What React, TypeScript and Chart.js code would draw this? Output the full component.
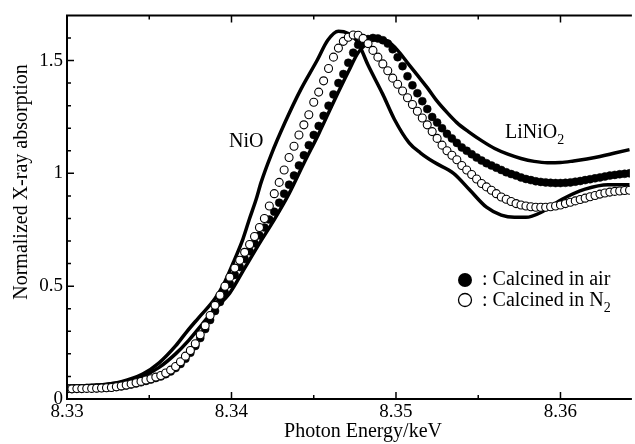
import React, { useEffect, useRef } from 'react';
import { Chart, registerables } from 'chart.js';
Chart.register(...registerables);

const FONT = '"Liberation Serif", "Times New Roman", Times, serif';

// Photon energy grid (keV) of the measured spectra
const energyGrid = [
  8.3300, 8.3303, 8.3306, 8.3309, 8.3312, 8.3315, 8.3318, 8.3321, 8.3324, 8.3327,
  8.3330, 8.3333, 8.3336, 8.3339, 8.3342, 8.3345, 8.3348, 8.3351, 8.3354, 8.3357,
  8.3360, 8.3363, 8.3366, 8.3369, 8.3372, 8.3375, 8.3378, 8.3381, 8.3384, 8.3387,
  8.3390, 8.3393, 8.3396, 8.3399, 8.3402, 8.3405, 8.3408, 8.3411, 8.3414, 8.3417,
  8.3420, 8.3423, 8.3426, 8.3429, 8.3432, 8.3435, 8.3438, 8.3441, 8.3444, 8.3447,
  8.3450, 8.3453, 8.3456, 8.3459, 8.3462, 8.3465, 8.3468, 8.3471, 8.3474, 8.3477,
  8.3480, 8.3483, 8.3486, 8.3489, 8.3492, 8.3495, 8.3498, 8.3501, 8.3504, 8.3507,
  8.3510, 8.3513, 8.3516, 8.3519, 8.3522, 8.3525, 8.3528, 8.3531, 8.3534, 8.3537,
  8.3540, 8.3543, 8.3546, 8.3549, 8.3552, 8.3555, 8.3558, 8.3561, 8.3564, 8.3567,
  8.3570, 8.3573, 8.3576, 8.3579, 8.3582, 8.3585, 8.3588, 8.3591, 8.3594, 8.3597,
  8.3600, 8.3603, 8.3606, 8.3609, 8.3612, 8.3615, 8.3618, 8.3621, 8.3624, 8.3627,
  8.3630, 8.3633, 8.3636, 8.3639, 8.3642,
];

// Calcined in air (filled circles)
const calcinedAir = [
  0.045, 0.045, 0.046, 0.046, 0.047, 0.047, 0.048, 0.049, 0.050, 0.051,
  0.053, 0.056, 0.060, 0.064, 0.069, 0.074, 0.080, 0.086, 0.093, 0.100,
  0.110, 0.122, 0.137, 0.155, 0.178, 0.205, 0.235, 0.270, 0.310, 0.350,
  0.390, 0.430, 0.470, 0.510, 0.550, 0.585, 0.620, 0.655, 0.690, 0.725,
  0.760, 0.795, 0.830, 0.870, 0.910, 0.950, 0.990, 1.035, 1.080, 1.125,
  1.170, 1.210, 1.255, 1.300, 1.350, 1.400, 1.440, 1.490, 1.535, 1.570,
  1.585, 1.595, 1.600, 1.598, 1.590, 1.575, 1.550, 1.515, 1.475, 1.430,
  1.390, 1.355, 1.320, 1.285, 1.250, 1.225, 1.200, 1.175, 1.155, 1.135,
  1.115, 1.100, 1.085, 1.070, 1.057, 1.045, 1.035, 1.025, 1.015, 1.005,
  0.997, 0.990, 0.982, 0.975, 0.970, 0.965, 0.962, 0.960, 0.958, 0.957,
  0.957, 0.958, 0.960, 0.963, 0.966, 0.970, 0.974, 0.978, 0.982, 0.986,
  0.990, 0.993, 0.996, 0.998, 1.000,
];

// Calcined in N2 (open circles)
const calcinedN2 = [
  0.045, 0.045, 0.046, 0.046, 0.047, 0.047, 0.048, 0.049, 0.050, 0.051,
  0.054, 0.058, 0.062, 0.067, 0.072, 0.078, 0.084, 0.090, 0.097, 0.104,
  0.115, 0.128, 0.144, 0.165, 0.190, 0.215, 0.245, 0.285, 0.325, 0.370,
  0.415, 0.460, 0.500, 0.540, 0.580, 0.615, 0.650, 0.685, 0.720, 0.760,
  0.800, 0.855, 0.910, 0.960, 1.015, 1.070, 1.120, 1.170, 1.215, 1.260,
  1.315, 1.360, 1.410, 1.465, 1.515, 1.555, 1.585, 1.603, 1.613, 1.612,
  1.598, 1.575, 1.545, 1.515, 1.485, 1.455, 1.422, 1.395, 1.365, 1.335,
  1.305, 1.275, 1.245, 1.215, 1.185, 1.155, 1.125, 1.100, 1.080, 1.060,
  1.035, 1.015, 0.995, 0.975, 0.955, 0.940, 0.925, 0.910, 0.895, 0.885,
  0.875, 0.866, 0.860, 0.855, 0.852, 0.850, 0.850, 0.850, 0.852, 0.855,
  0.860, 0.866, 0.872, 0.878, 0.884, 0.890, 0.896, 0.902, 0.908, 0.913,
  0.917, 0.920, 0.922, 0.924, 0.925,
];

// NiO reference (solid line)
const nioEnergy = [
  8.3300, 8.3320, 8.3332, 8.3346, 8.3356, 8.3366, 8.3373, 8.3380, 8.3390, 8.3396,
  8.3402, 8.3407, 8.3411, 8.3415, 8.3418, 8.3424, 8.34325, 8.3442, 8.3452, 8.34585,
  8.3465, 8.3471, 8.34765, 8.3483, 8.3492, 8.3499, 8.3508, 8.3515, 8.3523, 8.3535,
  8.3545, 8.3555, 8.3564, 8.3572, 8.3579, 8.3589, 8.3601, 8.3615, 8.3629, 8.3642,
];
const nioValues = [
  0.057, 0.062, 0.075, 0.110, 0.160, 0.235, 0.300, 0.360, 0.445, 0.520,
  0.620, 0.710, 0.800, 0.885, 0.960, 1.080, 1.225, 1.370, 1.500, 1.590,
  1.630, 1.620, 1.585, 1.480, 1.350, 1.240, 1.135, 1.090, 1.050, 1.000,
  0.925, 0.850, 0.815, 0.805, 0.805, 0.830, 0.885, 0.930, 0.950, 0.950,
];

// LiNiO2 reference (solid line)
const linio2Energy = [
  8.3300, 8.3320, 8.3332, 8.3346, 8.3356, 8.3366, 8.3374, 8.3382, 8.3390, 8.3399,
  8.3408, 8.3417, 8.3426, 8.3435, 8.3444, 8.3453, 8.3462, 8.3471, 8.3477, 8.3483,
  8.3489, 8.3495, 8.3501, 8.3507, 8.3513, 8.3519, 8.3525, 8.3531, 8.3537, 8.3544,
  8.3552, 8.3560, 8.3568, 8.3576, 8.3584, 8.3592, 8.3600, 8.3608, 8.3616, 8.3624,
  8.3633, 8.3642,
];
const linio2Values = [
  0.057, 0.062, 0.073, 0.100, 0.140, 0.200, 0.260, 0.330, 0.400, 0.470,
  0.580, 0.690, 0.795, 0.910, 1.045, 1.175, 1.315, 1.450, 1.535, 1.580,
  1.600, 1.585, 1.545, 1.490, 1.435, 1.380, 1.320, 1.270, 1.225, 1.185,
  1.145, 1.110, 1.085, 1.066, 1.053, 1.047, 1.048, 1.055, 1.064, 1.075,
  1.090, 1.105,
];

// Axes
const xMin = 8.33;
const xMax = 8.36422;
const yMin = 0;
const yMax = 1.7;
const xMajorTicks = [8.33, 8.34, 8.35, 8.36];
const xMinorTicks = [8.335, 8.345, 8.355];
const yMajorTicks = [0, 0.5, 1, 1.5];
const yMinorTicks = [0.1, 0.2, 0.3, 0.4, 0.6, 0.7, 0.8, 0.9, 1.1, 1.2, 1.3, 1.4, 1.6];
const xTitle = 'Photon Energy/keV';
const yTitle = 'Normalized X-ray absorption';
const legendAir = ': Calcined in air';
const legendN2 = ': Calcined in N';

const pts = (xs: number[], ys: number[]) => xs.map((x, i) => ({ x, y: ys[i] }));

export default function App() {
  const ref = useRef<HTMLCanvasElement>(null);
  useEffect(() => {
    document.body.style.margin = '0';
    const canvas = ref.current!;

    const decor = {
      id: 'decor',
      afterDraw(chart: any) {
        const { ctx, chartArea: a, scales } = chart;
        const xs = scales.x;
        const ys = scales.y;
        ctx.save();
        ctx.strokeStyle = '#000';
        ctx.fillStyle = '#000';
        // frame
        ctx.lineWidth = 2;
        ctx.beginPath();
        ctx.moveTo(a.left, a.top);
        ctx.lineTo(a.right + 2, a.top);
        ctx.moveTo(a.left, a.top - 1);
        ctx.lineTo(a.left, a.bottom + 1);
        ctx.moveTo(a.left, a.bottom);
        ctx.lineTo(a.right + 2, a.bottom);
        ctx.stroke();
        // ticks (inward)
        ctx.lineWidth = 1.5;
        ctx.beginPath();
        const xt = (v: number, len: number) => {
          const p = xs.getPixelForValue(v);
          ctx.moveTo(p, a.bottom);
          ctx.lineTo(p, a.bottom - len);
          ctx.moveTo(p, a.top);
          ctx.lineTo(p, a.top + len);
        };
        const yt = (v: number, len: number) => {
          const p = ys.getPixelForValue(v);
          ctx.moveTo(a.left, p);
          ctx.lineTo(a.left + len, p);
        };
        xMajorTicks.forEach((v) => xt(v, 7));
        xMinorTicks.forEach((v) => xt(v, 4));
        yMajorTicks.forEach((v) => yt(v, 7));
        yMinorTicks.forEach((v) => yt(v, 4));
        ctx.stroke();

        // axis titles
        ctx.font = `20px ${FONT}`;
        ctx.textAlign = 'center';
        ctx.textBaseline = 'middle';
        ctx.fillText(xTitle, 363, 432);
        ctx.save();
        ctx.translate(22, 182);
        ctx.rotate(-Math.PI / 2);
        ctx.fillText(yTitle, 0, 0);
        ctx.restore();

        // annotations
        ctx.textAlign = 'left';
        ctx.fillText('NiO', 229, 142);
        ctx.fillText('LiNiO', 505, 133);
        const w = ctx.measureText('LiNiO').width;
        ctx.font = `14px ${FONT}`;
        ctx.fillText('2', 505 + w, 140);

        // legend
        ctx.font = `20px ${FONT}`;
        ctx.beginPath();
        ctx.arc(465, 280, 7, 0, Math.PI * 2);
        ctx.fill();
        ctx.beginPath();
        ctx.lineWidth = 1.3;
        ctx.arc(465, 300, 6.5, 0, Math.PI * 2);
        ctx.fillStyle = '#fff';
        ctx.fill();
        ctx.stroke();
        ctx.fillStyle = '#000';
        ctx.fillText(legendAir, 482, 280);
        ctx.fillText(legendN2, 482, 301);
        const w2 = ctx.measureText(legendN2).width;
        ctx.font = `14px ${FONT}`;
        ctx.fillText('2', 482 + w2, 308);
        ctx.restore();
      },
    };

    const chart = new Chart(canvas, {
      type: 'line',
      data: {
        datasets: [
          {
            label: 'Calcined in N2',
            data: pts(energyGrid, calcinedN2),
            showLine: false,
            pointRadius: 4,
            pointBorderWidth: 1.1,
            pointBackgroundColor: '#fff',
            pointBorderColor: '#000',
            order: 1,
          },
          {
            label: 'Calcined in air',
            data: pts(energyGrid, calcinedAir),
            showLine: false,
            pointRadius: 4,
            pointBorderWidth: 0.5,
            pointBackgroundColor: '#000',
            pointBorderColor: '#000',
            order: 2,
          },
          {
            label: 'NiO',
            data: pts(nioEnergy, nioValues),
            borderColor: '#000',
            borderWidth: 3.5,
            pointRadius: 0,
            cubicInterpolationMode: 'monotone',
            fill: false,
            order: 3,
          },
          {
            label: 'LiNiO2',
            data: pts(linio2Energy, linio2Values),
            borderColor: '#000',
            borderWidth: 3.5,
            pointRadius: 0,
            cubicInterpolationMode: 'monotone',
            fill: false,
            order: 4,
          },
        ],
      },
      options: {
        animation: false,
        responsive: false,
        devicePixelRatio: 1,
        layout: { padding: { top: 13, right: 0, left: 0, bottom: 0 } },
        plugins: { legend: { display: false }, tooltip: { enabled: false } },
        scales: {
          x: {
            type: 'linear',
            min: xMin,
            max: xMax,
            grid: { display: false, drawTicks: false },
            border: { display: false },
            afterBuildTicks: (s: any) => {
              s.ticks = xMajorTicks.map((v) => ({ value: v }));
            },
            afterFit: (s: any) => {
              s.height = 45;
            },
            ticks: {
              color: '#000',
              padding: 2,
              maxRotation: 0,
              autoSkip: false,
              font: { family: FONT, size: 19 },
              callback: (v: any) => String(v),
            },
          },
          y: {
            type: 'linear',
            min: yMin,
            max: yMax,
            grid: { display: false, drawTicks: false },
            border: { display: false },
            afterBuildTicks: (s: any) => {
              s.ticks = yMajorTicks.map((v) => ({ value: v }));
            },
            afterFit: (s: any) => {
              s.width = 67;
            },
            ticks: {
              color: '#000',
              padding: 4,
              autoSkip: false,
              font: { family: FONT, size: 19 },
              callback: (v: any) => String(v),
            },
          },
        },
      },
      plugins: [decor],
    });
    return () => chart.destroy();
  }, []);
  return <canvas ref={ref} width={635} height={444} style={{ display: 'block' }} />;
}
